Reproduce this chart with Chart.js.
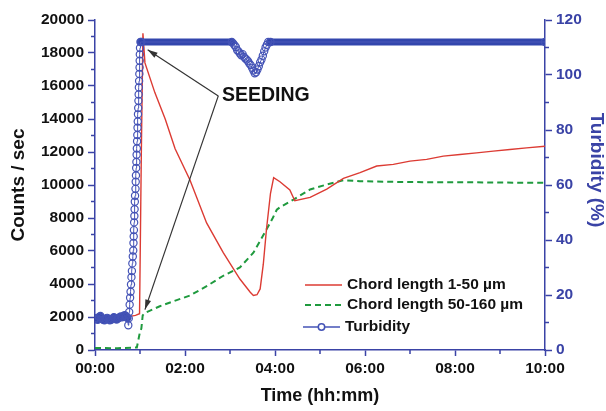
<!DOCTYPE html>
<html>
<head>
<meta charset="utf-8">
<script src="https://cdn.jsdelivr.net/npm/chart.js@4.4.1/dist/chart.umd.min.js"></script>
<style>
  html, body { margin: 0; padding: 0; background: #fff; overflow: hidden; }
  #grafico { display: block; }
</style>
</head>
<body>
<canvas id="grafico" width="606" height="411"></canvas>
<script>
// time in hours
const xTickLabels = ["00:00", "02:00", "04:00", "06:00", "08:00", "10:00"];

const chordSmallTime = [0, 0.3, 0.6, 0.9, 0.99, 1.03, 1.065, 1.11, 1.33, 1.56, 1.78, 2.11, 2.48, 2.85, 3.22, 3.45, 3.52, 3.60, 3.67, 3.74, 3.81, 3.90, 3.97, 4.11, 4.33, 4.44, 4.78, 5.15, 5.52, 5.89, 6.26, 6.63, 7.0, 7.37, 7.74, 8.11, 8.48, 8.85, 9.22, 9.59, 10.0];
const chordSmall = [2000, 2050, 1950, 2100, 2200, 12000, 19200, 17400, 15600, 14000, 12200, 10300, 7700, 5900, 4300, 3500, 3300, 3350, 3700, 5200, 7300, 9500, 10450, 10200, 9700, 9050, 9250, 9750, 10400, 10750, 11150, 11250, 11450, 11550, 11750, 11850, 11950, 12050, 12150, 12250, 12350];

const chordLargeTime = [0, 0.5, 0.93, 0.97, 1.0, 1.03, 1.06, 1.11, 1.44, 1.74, 2.11, 2.5, 2.85, 3.22, 3.52, 3.81, 3.95, 4.04, 4.11, 4.41, 4.78, 5.15, 5.52, 5.89, 6.63, 7.37, 8.11, 8.85, 10.0];
const chordLarge = [120, 110, 150, 700, 1100, 1300, 2100, 2250, 2650, 2950, 3300, 3900, 4500, 5000, 5900, 7300, 8000, 8500, 8650, 9120, 9730, 10030, 10290, 10230, 10190, 10170, 10170, 10150, 10130];

// turbidity before seeding (dense, looks like a dark bar)
const preSeedTime = [0.00, 0.03, 0.06, 0.09, 0.12, 0.15, 0.18, 0.21, 0.24, 0.27, 0.30, 0.33, 0.36, 0.39, 0.42, 0.45, 0.48, 0.51, 0.54, 0.57, 0.60, 0.63, 0.66, 0.69, 0.72];
const preSeed = [11.2, 11.6, 11.0, 12.0, 12.4, 11.6, 11.0, 10.8, 11.3, 11.7, 11.2, 10.8, 11.0, 11.4, 11.9, 11.5, 11.1, 11.4, 11.8, 12.2, 11.9, 12.3, 12.7, 12.2, 11.6];

const turbTime = [
  0.74, 0.75, 0.76, 0.77, 0.78, 0.79, 0.80, 0.81, 0.82, 0.83, 0.84, 0.85, 0.855, 0.86, 0.865, 0.87, 0.875, 0.88, 0.885, 0.89, 0.90, 0.905, 0.91, 0.915, 0.92, 0.925, 0.93, 0.935, 0.94, 0.945, 0.95, 0.955, 0.96, 0.965, 0.97, 0.975, 0.98, 0.985, 0.99, 0.993, 0.996, 1.0, 1.01,
  1.03, 3.04,
  3.07, 3.10, 3.13, 3.16, 3.19, 3.22, 3.25, 3.28, 3.31, 3.34, 3.37, 3.40, 3.43, 3.46, 3.49, 3.52, 3.55, 3.58, 3.61, 3.64, 3.67, 3.70, 3.73, 3.76, 3.79, 3.82, 3.85,
  3.90, 10.0
];
const turbidity = [
  9.0, 11.5, 13.8, 16.5, 19.0, 21.2, 23.8, 26.5, 28.7, 31.5, 34.0, 36.2, 38.9, 41.3, 43.6, 46.4, 48.7, 51.2, 53.9, 56.1, 58.6, 61.2, 63.5, 66.2, 68.4, 71.0, 73.3, 75.9, 78.2, 80.8, 83.1, 85.7, 88.0, 90.6, 92.9, 95.5, 97.8, 100.4, 102.7, 105.2, 107.5, 109.8, 112,
  112, 112,
  111.5, 110.8, 110.2, 109.0, 108.6, 107.8, 107.2, 107.6, 106.6, 106.0, 105.6, 105.0, 104.2, 103.6, 102.6, 101.6, 100.6, 101.0, 102.0, 103.2, 104.6, 105.6, 107.0, 108.6, 110.0, 111.0, 112.0,
  112, 112
];

// flat top of the turbidity trace (dense circles look like a solid bar)
const plateauTime = [1.01, 3.04, 3.45, 3.88, 10.0];
const plateau = [112, 112, null, 112, 112];

const AZUL = "#3a43a6";
const FUENTE = "'Liberation Sans', Arial, sans-serif";

function puntos(xs, ys) {
  return xs.map((x, i) => ({ x: x, y: ys[i] }));
}

function flecha(ctx, x0, y0, x1, y1) {
  const ang = Math.atan2(y1 - y0, x1 - x0);
  ctx.beginPath();
  ctx.moveTo(x0, y0);
  ctx.lineTo(x1, y1);
  ctx.stroke();
  ctx.beginPath();
  ctx.moveTo(x1, y1);
  ctx.lineTo(x1 - 10 * Math.cos(ang) + 3 * Math.sin(ang), y1 - 10 * Math.sin(ang) - 3 * Math.cos(ang));
  ctx.lineTo(x1 - 10 * Math.cos(ang) - 3 * Math.sin(ang), y1 - 10 * Math.sin(ang) + 3 * Math.cos(ang));
  ctx.closePath();
  ctx.fill();
}

const extras = {
  id: "extras",
  afterDraw(chart) {
    const ctx = chart.ctx;
    const a = chart.chartArea;
    const sx = chart.scales.x, sy = chart.scales.y, sy1 = chart.scales.y1;
    ctx.save();

    // minor ticks
    ctx.strokeStyle = AZUL;
    ctx.lineWidth = 1.5;
    ctx.beginPath();
    for (let v = 1000; v < 20000; v += 2000) {
      const p = sy.getPixelForValue(v);
      ctx.moveTo(a.left, p); ctx.lineTo(a.left - 4, p);
    }
    for (let v = 10; v < 120; v += 20) {
      const p = sy1.getPixelForValue(v);
      ctx.moveTo(a.right, p); ctx.lineTo(a.right + 4, p);
    }
    for (let v = 1; v < 10; v += 2) {
      const p = sx.getPixelForValue(v);
      ctx.moveTo(p, a.bottom); ctx.lineTo(p, a.bottom + 4);
    }
    ctx.stroke();

    // right axis title
    ctx.fillStyle = AZUL;
    ctx.font = "bold 19px " + FUENTE;
    ctx.textAlign = "center";
    ctx.textBaseline = "middle";
    ctx.translate(a.right + 51.5, a.top + 150);
    ctx.rotate(Math.PI / 2);
    ctx.fillText("Turbidity (%)", 0, 0);
    ctx.setTransform(1, 0, 0, 1, 0, 0);

    // SEEDING label with two arrows
    ctx.fillStyle = "#111";
    ctx.font = "bold 19.5px " + FUENTE;
    ctx.textAlign = "left";
    ctx.fillText("SEEDING", sx.getPixelForValue(2.82), sy.getPixelForValue(15400));
    ctx.strokeStyle = "#333";
    ctx.fillStyle = "#333";
    ctx.lineWidth = 1.2;
    const jx = sx.getPixelForValue(2.74), jy = sy.getPixelForValue(15400);
    flecha(ctx, jx, jy, sx.getPixelForValue(1.17), sy.getPixelForValue(18200));
    flecha(ctx, jx, jy, sx.getPixelForValue(1.11), sy.getPixelForValue(2450));

    // legend inside the plot
    const ds = chart.data.datasets;
    const lx = a.left + 210, ly = a.top + 265;
    ctx.font = "bold 15.5px " + FUENTE;
    ctx.fillStyle = "#111";
    ctx.textBaseline = "middle";
    [0, 1].forEach((k, i) => {
      const d = ds.find(s => s.leyenda === k);
      const y = ly + i * 20;
      ctx.strokeStyle = d.borderColor;
      ctx.lineWidth = d.borderWidth;
      ctx.setLineDash(d.borderDash || []);
      ctx.beginPath();
      ctx.moveTo(lx, y); ctx.lineTo(lx + 37, y);
      ctx.stroke();
      ctx.setLineDash([]);
      ctx.fillText(d.label, lx + 42, y);
    });
    const t = ds.find(s => s.leyenda === 2);
    const y3 = ly + 42;
    ctx.strokeStyle = t.pointBorderColor;
    ctx.lineWidth = 1.5;
    ctx.beginPath();
    ctx.moveTo(lx - 2, y3); ctx.lineTo(lx + 35, y3);
    ctx.stroke();
    ctx.beginPath();
    ctx.arc(lx + 16.5, y3, 3.2, 0, Math.PI * 2);
    ctx.fillStyle = "#fff";
    ctx.fill();
    ctx.stroke();
    ctx.fillStyle = "#111";
    ctx.fillText(t.label, lx + 40, y3);

    ctx.restore();
  }
};

const turbPoints = puntos(preSeedTime, preSeed).concat(puntos(turbTime, turbidity));
const bandPoints = puntos(preSeedTime, preSeed).concat([{ x: 0.86, y: null }], puntos(plateauTime, plateau));

new Chart(document.getElementById("grafico"), {
  type: "line",
  data: {
    datasets: [
      {
        label: "Turbidity", leyenda: 2, order: 0, yAxisID: "y1",
        data: turbPoints,
        borderColor: "#4a56b8", borderWidth: 1,
        pointRadius: 3.6, pointBorderWidth: 1.2,
        pointBorderColor: "#4453b6", pointBackgroundColor: "rgba(255,255,255,0)"
      },
      {
        label: "band", order: 1, yAxisID: "y1",
        data: bandPoints,
        borderColor: "#3346ad", borderWidth: 7, borderCapStyle: "round", borderJoinStyle: "round",
        pointRadius: 0, spanGaps: false
      },
      {
        label: "Chord length 1-50 µm", leyenda: 0, order: 2, yAxisID: "y",
        data: puntos(chordSmallTime, chordSmall),
        borderColor: "#dc3b33", borderWidth: 1.4, pointRadius: 0
      },
      {
        label: "Chord length 50-160 µm", leyenda: 1, order: 3, yAxisID: "y",
        data: puntos(chordLargeTime, chordLarge),
        borderColor: "#1f9a3e", borderWidth: 2, borderDash: [6, 4], pointRadius: 0
      }
    ]
  },
  options: {
    responsive: false,
    animation: false,
    devicePixelRatio: 1,
    layout: { padding: { top: 20, left: 0, right: 0, bottom: 0 } },
    plugins: { legend: { display: false }, tooltip: { enabled: false } },
    scales: {
      x: {
        type: "linear", min: 0, max: 10,
        afterFit: s => { s.height = 61; },
        border: { color: AZUL, width: 1.5 },
        grid: { drawOnChartArea: false, color: AZUL, tickLength: 6, tickWidth: 1.5 },
        ticks: {
          stepSize: 2, autoSkip: false, maxRotation: 0, padding: 3,
          color: "#111", font: { family: FUENTE, size: 15.5, weight: "bold" },
          callback: v => xTickLabels[v / 2]
        },
        title: {
          display: true, text: "Time (hh:mm)", color: "#111",
          font: { family: FUENTE, size: 18, weight: "bold" },
          padding: { top: 0, bottom: 4 }
        }
      },
      y: {
        position: "left", min: 0, max: 20000,
        afterFit: s => { s.width = 95; },
        border: { color: AZUL, width: 1.5 },
        grid: { drawOnChartArea: false, color: AZUL, tickLength: 7, tickWidth: 1.5 },
        ticks: {
          stepSize: 2000, padding: 4,
          color: "#111", font: { family: FUENTE, size: 15.5, weight: "bold" },
          callback: v => String(v)
        },
        title: {
          display: true, text: "Counts / sec", color: "#111",
          font: { family: FUENTE, size: 19, weight: "bold" },
          padding: { top: 7, bottom: 0 }
        }
      },
      y1: {
        position: "right", min: 0, max: 120,
        afterFit: s => { s.width = 61; },
        border: { color: AZUL, width: 1.5 },
        grid: { drawOnChartArea: false, color: AZUL, tickLength: 7, tickWidth: 1.5 },
        ticks: {
          stepSize: 20, padding: 4,
          color: AZUL, font: { family: FUENTE, size: 15.5, weight: "bold" }
        }
      }
    }
  },
  plugins: [extras]
});
</script>
</body>
</html>
